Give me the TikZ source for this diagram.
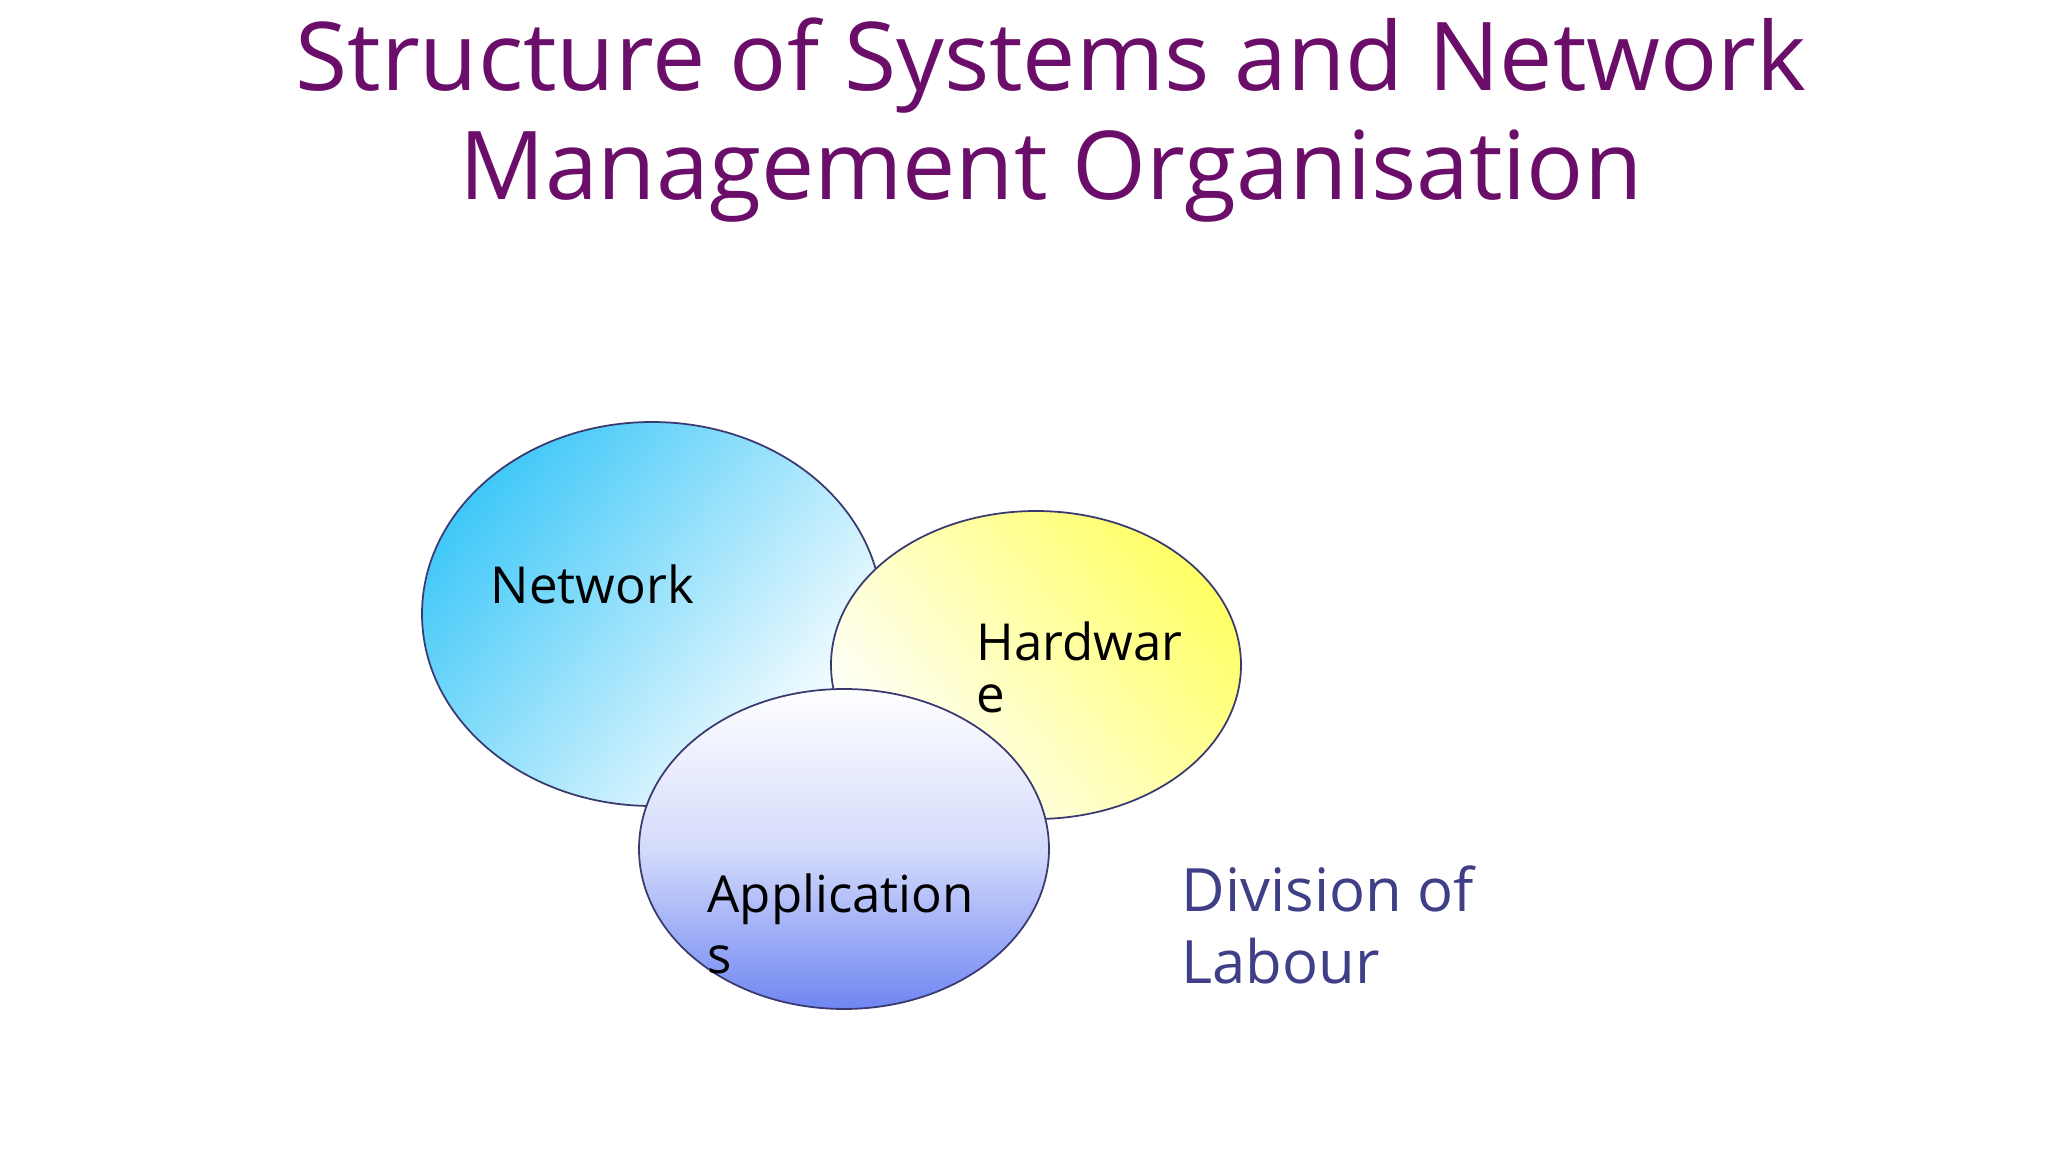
\documentclass[tikz,border=0pt]{standalone}
\usepackage{fontspec}
\setmainfont{Open Sans}
\definecolor{titlec}{HTML}{6A0E6A}
\definecolor{divc}{HTML}{3F3F88}
\definecolor{netc}{HTML}{40C8F8}
\definecolor{hwc}{HTML}{FFFF66}
\definecolor{appc}{HTML}{6F86F2}
\definecolor{edge}{HTML}{3A3A70}
\tikzset{
  blob/.style={draw=edge, line width=0.5pt},
  lbl/.style={anchor=west, font=\fontsize{14.5pt}{18pt}\selectfont, inner sep=0pt},
  ttl/.style={font=\fontsize{27pt}{32pt}\selectfont, text=titlec, inner sep=0pt}
}
\begin{document}
\begin{tikzpicture}[x=0.01cm,y=-0.01cm]
\useasboundingbox[fill=white] (0,0) rectangle (2048,1152);
\node[ttl] (t1) at (1051,66) {Structure of Systems and Network};
\node[ttl] (t2) at (1051,176) {Management Organisation};
\shade[blob, left color=white, right color=netc, shading angle=-130] (652,614) ellipse [x radius=230, y radius=192];
\shade[blob, left color=hwc, right color=white, shading angle=-50] (1036,665) ellipse [x radius=205, y radius=154];
\shade[blob, top color=white, bottom color=appc, middle color=appc!30] (844,849) ellipse [x radius=205, y radius=160];
\node[lbl] (n) at (490,584) {Network};
\node[lbl] (h1) at (976,641) {Hardwar};
\node[lbl] (h2) at (976,699) {e};
\node[lbl] (a1) at (707,899) {Application};
\node[lbl] (a2) at (707,960) {s};
\node[lbl, text=divc, font=\fontsize{17pt}{22pt}\selectfont] (d1) at (1181,889) {Division of};
\node[lbl, text=divc, font=\fontsize{17pt}{22pt}\selectfont] (d2) at (1181,961) {Labour};
\end{tikzpicture}
\end{document}
